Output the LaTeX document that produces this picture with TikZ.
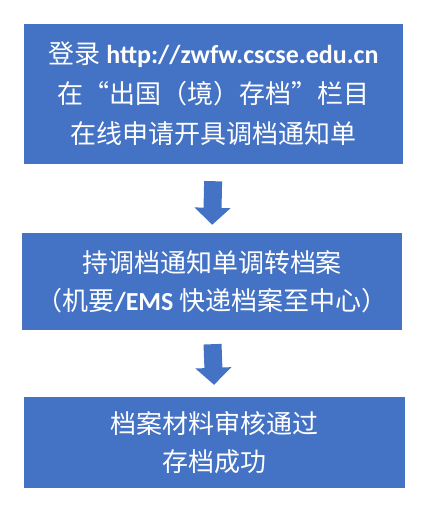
\documentclass[tikz,border=0pt]{standalone}
\usepackage{fontspec}
\setmainfont{Noto Sans CJK SC}
\newfontfamily\latf{Carlito}
\usetikzlibrary{arrows.meta}
\definecolor{boxblue}{HTML}{4472C4}
\newcommand{\lt}[1]{{\latf\bfseries #1}}
\begin{document}
\begin{tikzpicture}[x=1pt,y=1pt,
  stepbox/.style={fill=boxblue,draw=none,text=white,align=center,inner sep=0pt},
  blockarrow/.style={draw=boxblue,line width=18pt,-{Triangle[width=35pt,length=17pt]}}]
\useasboundingbox (0,0) rectangle (426,-512);
\node[stepbox,minimum width=379pt,minimum height=140pt,
  font={\fontsize{26}{40}\selectfont}] (b1) at (213.5,-94)
  {登录\lt{ http://zwfw.cscse.edu.cn}\\在“出国（境）存档”栏目\\在线申请开具调档通知单};
\node[stepbox,minimum width=380pt,minimum height=97pt,
  font={\fontsize{26}{38}\selectfont}] (b2) at (212,-281.5)
  {持调档通知单调转档案\\（机要\lt{/EMS }快递档案至中心）};
\node[stepbox,minimum width=381pt,minimum height=91pt,
  font={\fontsize{26}{38}\selectfont}] (b3) at (214.5,-442.5)
  {档案材料审核通过\\存档成功};
\draw[blockarrow,shorten <=17pt,shorten >=8pt] (b1.south) -- (b2.north);
\draw[blockarrow,shorten <=14pt,shorten >=12pt] (b2.south) -- (b3.north);
\end{tikzpicture}
\end{document}
